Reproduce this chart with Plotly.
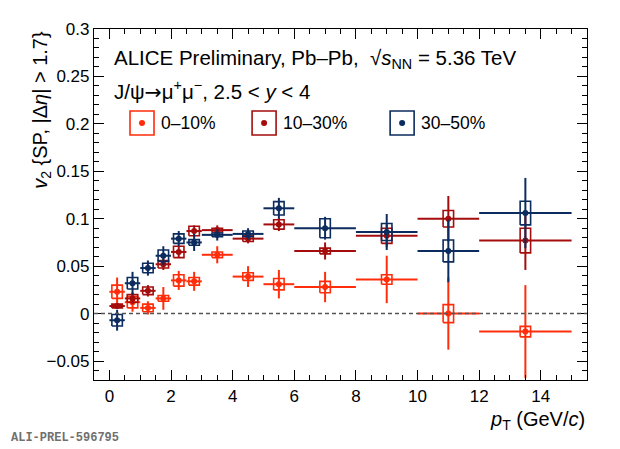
import plotly.graph_objects as go

# pT bins (GeV/c)
pt = [0.25, 0.75, 1.25, 1.75, 2.25, 2.75, 3.5, 4.5, 5.5, 7.0, 9.0, 11.0, 13.5]
pt_halfwidth = [0.25, 0.25, 0.25, 0.25, 0.25, 0.25, 0.5, 0.5, 0.5, 1.0, 1.0, 1.0, 1.5]

# 0-10%
v2_c0 = [0.023, 0.012, 0.006, 0.016, 0.035, 0.034, 0.062, 0.039, 0.031, 0.028, 0.036, 0.000, -0.019]
stat_c0 = [0.015, 0.010, 0.007, 0.012, 0.010, 0.010, 0.009, 0.011, 0.015, 0.016, 0.025, 0.038, 0.049]
syst_c0 = [0.007, 0.006, 0.004, 0.003, 0.006, 0.004, 0.003, 0.004, 0.006, 0.006, 0.005, 0.0095, 0.0055]

# 10-30%
v2_c1 = [0.008, 0.016, 0.024, 0.052, 0.065, 0.087, 0.088, 0.079, 0.094, 0.066, 0.082, 0.100, 0.077]
stat_c1 = [0.003, 0.006, 0.006, 0.006, 0.006, 0.006, 0.005, 0.005, 0.007, 0.009, 0.012, 0.024, 0.031]
syst_c1 = [0.002, 0.004, 0.004, 0.004, 0.006, 0.005, 0.002, 0.003, 0.005, 0.003, 0.008, 0.0087, 0.013]

# 30-50%
v2_c2 = [-0.007, 0.032, 0.048, 0.061, 0.079, 0.075, 0.083, 0.084, 0.111, 0.090, 0.086, 0.066, 0.106]
stat_c2 = [0.011, 0.012, 0.008, 0.010, 0.008, 0.009, 0.006, 0.006, 0.011, 0.012, 0.019, 0.033, 0.037]
syst_c2 = [0.006, 0.006, 0.005, 0.006, 0.005, 0.003, 0.002, 0.003, 0.007, 0.010, 0.009, 0.0115, 0.0125]

labels = ['0–10%', '10–30%', '30–50%']
colors = ['#ff2d0a', '#a50d0d', '#0c2b5e']

FONT = 'Liberation Sans, Arial, sans-serif'
BOX_HALF = 0.17  # half width of syst. boxes in GeV/c


def syst_boxes(x, y, s):
    """Open rectangles for systematic uncertainties."""
    bx, by = [], []
    for xi, yi, si in zip(x, y, s):
        bx += [xi - BOX_HALF, xi + BOX_HALF, xi + BOX_HALF, xi - BOX_HALF, xi - BOX_HALF, None]
        by += [yi - si, yi - si, yi + si, yi + si, yi - si, None]
    return bx, by


fig = go.Figure()

series = [
    (v2_c0, stat_c0, syst_c0),
    (v2_c1, stat_c1, syst_c1),
    (v2_c2, stat_c2, syst_c2),
]

for (v2, stat, syst), name, col in zip(series, labels, colors):
    bx, by = syst_boxes(pt, v2, syst)
    fig.add_trace(go.Scatter(
        x=bx, y=by, mode='lines',
        line=dict(color=col, width=1.6),
        hoverinfo='skip', showlegend=False,
    ))
    fig.add_trace(go.Scatter(
        x=pt, y=v2, mode='markers', name=name,
        marker=dict(color=col, size=6, symbol='circle'),
        error_y=dict(type='data', array=stat, color=col, thickness=2, width=0),
        error_x=dict(type='data', array=pt_halfwidth, color=col, thickness=2, width=0),
        showlegend=False,
    ))

# zero line
fig.add_shape(type='line', xref='paper', x0=0, x1=1, y0=0, y1=0,
              line=dict(color='#555555', width=1.5, dash='4px,3px'))

# hand-made legend (ROOT style: open box with dot)
leg_x = [0.0974, 0.345, 0.625]
leg_y = 0.732
for lx, name, col in zip(leg_x, labels, colors):
    fig.add_shape(type='rect', xref='paper', yref='paper',
                  xsizemode='pixel', ysizemode='pixel',
                  xanchor=lx, yanchor=leg_y,
                  x0=-12, x1=12, y0=-12, y1=12,
                  line=dict(color=col, width=1.6))
    fig.add_shape(type='circle', xref='paper', yref='paper',
                  xsizemode='pixel', ysizemode='pixel',
                  xanchor=lx, yanchor=leg_y,
                  x0=-3, x1=3, y0=-3, y1=3,
                  fillcolor=col, line=dict(color=col, width=0))
    fig.add_annotation(x=lx + 0.035, y=leg_y, xref='paper', yref='paper',
                       text=name, showarrow=False, xanchor='left', yanchor='middle',
                       font=dict(size=17.5, color='black', family=FONT))

fig.add_annotation(x=0.037, y=0.915, xref='paper', yref='paper',
                   text='ALICE Preliminary, Pb–Pb,  √<i>s</i><sub>NN</sub> = 5.36 TeV',
                   showarrow=False, xanchor='left', yanchor='middle',
                   font=dict(size=20.5, color='black', family=FONT))
fig.add_annotation(x=0.037, y=0.825, xref='paper', yref='paper',
                   text="J/ψ<span style='font-family:DejaVu Sans'>→</span>μ<sup>+</sup>μ<sup>−</sup>, 2.5 < <i>y</i> < 4",
                   showarrow=False, xanchor='left', yanchor='middle',
                   font=dict(size=20.5, color='black', family=FONT))

# axis titles
fig.add_annotation(x=-0.108, y=1.0, xref='paper', yref='paper',
                   text='<i>v</i><sub>2</sub> {SP, |Δ<i>η</i>| > 1.7}',
                   textangle=-90, showarrow=False, xanchor='center', yanchor='top',
                   font=dict(size=20, color='black', family=FONT))
fig.add_annotation(x=1.0, y=-0.075, xref='paper', yref='paper',
                   text='<i>p</i><sub>T</sub> (GeV/<i>c</i>)',
                   showarrow=False, xanchor='right', yanchor='top',
                   font=dict(size=20, color='black', family=FONT))

fig.add_annotation(x=-0.172, y=-0.165, xref='paper', yref='paper',
                   text='<b>ALI-PREL-596795</b>', showarrow=False,
                   xanchor='left', yanchor='middle',
                   font=dict(size=12, color='#707070', family='Liberation Mono, DejaVu Sans Mono'))

axis_common = dict(
    showgrid=False, zeroline=False, showline=True,
    linecolor='black', linewidth=1.2, mirror='allticks',
    ticks='inside', ticklen=10, tickwidth=1.2, tickcolor='black',
    tickfont=dict(size=17, color='black', family=FONT),
)

fig.update_xaxes(range=[-0.5, 15.5], dtick=2, tick0=0,
                 minor=dict(dtick=0.5, ticks='inside', ticklen=5, tickcolor='black', tickwidth=1.2),
                 **axis_common)
fig.update_yaxes(range=[-0.07, 0.3], dtick=0.05, tick0=0,
                 minor=dict(dtick=0.01, ticks='inside', ticklen=5, tickcolor='black', tickwidth=1.2),
                 **axis_common)

# page body adds an 8px offset, so the figure is a bit smaller than the window
fig.update_layout(
    width=612, height=441,
    margin=dict(l=86, r=33, t=17, b=69),
    plot_bgcolor='white', paper_bgcolor='white',
    showlegend=False,
    font=dict(family=FONT, color='black'),
)

fig.write_html('out.html')
